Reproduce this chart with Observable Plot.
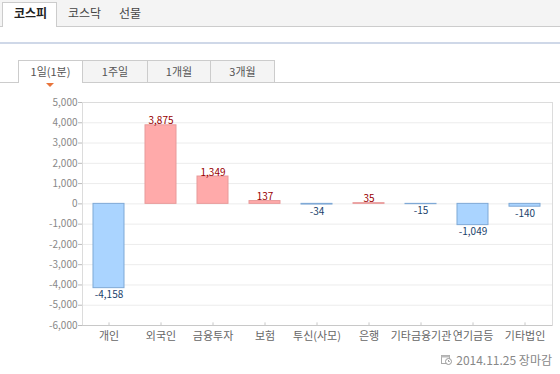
<!DOCTYPE html>
<html><head><meta charset="utf-8">
<script src="https://cdn.jsdelivr.net/npm/d3@7"></script>
<script src="https://cdn.jsdelivr.net/npm/@observablehq/plot@0.6"></script>
<style>
body{margin:0;width:560px;height:374px;background:#fff;position:relative;overflow:hidden;font-family:"Noto Sans CJK KR","Noto Sans",sans-serif;}
.abs{position:absolute;}
#topbar{left:0;top:0;width:560px;height:26px;background:#f4f4f4;border-bottom:1px solid #ccc;}
.mtab{top:0;height:26px;font-size:12px;color:#444;line-height:26px;}
#active{left:2px;top:2px;width:55px;height:25px;background:#fff;border:1px solid #ccc;border-bottom:none;box-sizing:border-box;}
#blue{left:0;top:42px;width:560px;height:2px;background:#cfd8e8;}
#subline{left:0;top:82px;width:560px;height:1px;background:#ccc;}
.stab{top:60px;height:22px;box-sizing:border-box;border:1px solid #ccc;border-bottom:none;background:#f4f4f4;font-size:11px;color:#555;text-align:center;line-height:21px;}
#chart{left:0;top:88px;}
#footer{right:8px;top:351px;font-size:12px;color:#888;display:flex;align-items:center;gap:4px;}
</style></head>
<body>
<div id="topbar" class="abs"></div>
<div id="active" class="abs"></div>
<div class="abs mtab" style="left:14px;font-weight:bold;color:#222;">코스피</div>
<div class="abs mtab" style="left:68px;">코스닥</div>
<div class="abs mtab" style="left:119px;">선물</div>
<div id="blue" class="abs"></div>
<div id="subline" class="abs"></div>
<div class="abs stab" style="left:18px;width:65px;background:#fff;height:23px;">1일(1분)</div>
<div class="abs stab" style="left:82px;width:66px;">1주일</div>
<div class="abs stab" style="left:147px;width:64px;">1개월</div>
<div class="abs stab" style="left:210px;width:65px;">3개월</div>
<svg class="abs" style="left:46px;top:83px;" width="8" height="5"><path d="M0,0 L8,0 L4,4 Z" fill="#e8743b"/></svg>
<div id="chart" class="abs"></div>
<div id="footer" class="abs">
<svg width="11" height="11" viewBox="0 0 11 11"><rect x="0.5" y="1.5" width="8" height="8" fill="#fff" stroke="#aaa"/><rect x="0.5" y="1.5" width="8" height="2" fill="#bbb"/><circle cx="7.5" cy="7.5" r="3" fill="#fff" stroke="#999"/><path d="M7.5,6 V7.5 H8.7" stroke="#999" fill="none"/></svg>
<span>2014.11.25 장마감</span></div>
<script>
const categories = ["개인","외국인","금융투자","보험","투신(사모)","은행","기타금융기관","연기금등","기타법인"];
const values = [-4158, 3875, 1349, 137, -34, 35, -15, -1049, -140];
const yTicks = [5000,4000,3000,2000,1000,0,-1000,-2000,-3000,-4000,-5000,-6000];

const data = categories.map((c,i)=>({cat:c, value:values[i]}));
const fmt = d3.formatLocale({decimal: ".", thousands: ",", grouping: [3], currency: ["", ""], minus: "-"}).format(",");

const chart = Plot.plot({
  width: 560, height: 262,
  marginLeft: 82, marginRight: 8, marginTop: 14, marginBottom: 25,
  style: {fontFamily: '"Noto Sans CJK KR","Noto Sans",sans-serif', fontSize: "10px", background: "#fff"},
  x: {domain: categories, paddingInner: 0.4, paddingOuter: 0.2, label: null},
  y: {domain: [-6000, 5000], label: null},
  marks: [
    Plot.ruleY(yTicks, {stroke: "#ececec"}),
    Plot.frame({stroke: "#dcdcdc"}),
    Plot.ruleY([-6000], {stroke: "#c8c8c8"}),
    Plot.ruleX(categories, {x: d => d, y1: -6000, y2: -5870, stroke: "#c8c8c8"}),
    Plot.axisY({ticks: yTicks, tickFormat: fmt, tickSize: 4, tickPadding: 1, stroke: "#bbb", fill: "#888", fontSize: 10}),
    Plot.axisX({tickSize: 0, tickPadding: 7, fill: "#666", fontSize: 11}),
    Plot.barY(data, {x: "cat", y: "value",
      fill: d => d.value >= 0 ? "#ffaaaa" : "#aad4ff",
      stroke: d => d.value >= 0 ? "#e89a9a" : "#7fa9d6", strokeWidth: 1}),
    Plot.text(data.filter(d => d.value >= 0), {x: "cat", y: "value", text: d => fmt(d.value), lineAnchor: "bottom", dy: -1, fill: "#990000", fontSize: 10}),
    Plot.text(data.filter(d => d.value < 0), {x: "cat", y: "value", text: d => fmt(d.value), lineAnchor: "top", dy: 3, fill: "#1a3f6b", fontSize: 10})
  ]
});
document.getElementById("chart").appendChild(chart);
</script>
</body></html>
